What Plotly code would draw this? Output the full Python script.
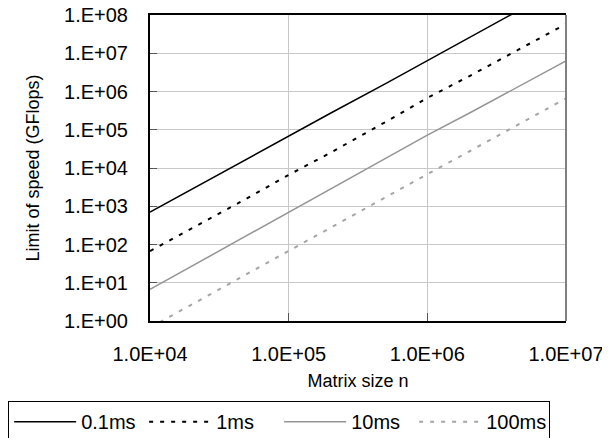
import plotly.graph_objects as go

n_values = [1e4, 2e4, 5e4, 1e5, 2e5, 5e5, 1e6, 2e6, 5e6, 1e7]
speed_01ms = [7.0e2, 2.8e3, 1.7e4, 6.9e4, 2.7e5, 1.6e6, 6.3e6, 2.6e7, 1.6e8, 6.3e8]
speed_1ms = [6.7e1, 2.6e2, 1.6e3, 6.6e3, 2.5e4, 1.6e5, 6.8e5, 2.5e6, 1.5e7, 5.8e7]
speed_10ms = [6.7, 2.7e1, 1.7e2, 6.9e2, 2.8e3, 1.7e4, 7.2e4, 2.7e5, 1.6e6, 6.3e6]
speed_100ms = [0.67, 2.7, 1.7e1, 6.9e1, 2.7e2, 1.7e3, 6.9e3, 2.7e4, 1.7e5, 6.6e5]

series_names = ["0.1ms", "1ms", "10ms", "100ms"]
x_tickvals = [1e4, 1e5, 1e6, 1e7]
x_ticktext = ["1.0E+04", "1.0E+05", "1.0E+06", "1.0E+07"]
y_tickvals = [1e0, 1e1, 1e2, 1e3, 1e4, 1e5, 1e6, 1e7, 1e8]
y_ticktext = ["1.E+00", "1.E+01", "1.E+02", "1.E+03", "1.E+04", "1.E+05", "1.E+06", "1.E+07", "1.E+08"]

FONT = "Liberation Sans, Arial, sans-serif"

fig = go.Figure()
styles = [
    dict(color="black", width=1.5, dash="solid"),
    dict(color="black", width=2, dash="4px,7px"),
    dict(color="#959595", width=1.5, dash="solid"),
    dict(color="#a5a5a5", width=2, dash="4px,7px"),
]
for name, ys, st in zip(series_names, [speed_01ms, speed_1ms, speed_10ms, speed_100ms], styles):
    fig.add_trace(go.Scatter(x=n_values, y=ys, mode="lines", name=name, line=st))

fig.update_layout(
    width=594, height=430,
    margin=dict(l=142, r=36, t=7, b=117, autoexpand=False),
    paper_bgcolor="white", plot_bgcolor="white",
    font=dict(family=FONT, size=20, color="black"),
    showlegend=True,
    legend=dict(
        orientation="h", x=-0.341, xanchor="left", y=-0.262, yanchor="top",
        bordercolor="black", borderwidth=1, bgcolor="white",
        font=dict(size=20), itemwidth=62, entrywidth=58, tracegroupgap=0,
    ),
    xaxis=dict(
        type="log", range=[4, 7], tickvals=x_tickvals, ticktext=x_ticktext,
        automargin=False, ticklabeloverflow="allow",
        showgrid=True, gridcolor="#c8c8c8", gridwidth=1,
        showline=True, linecolor="black", linewidth=2, mirror=True,
        ticks="inside", ticklen=8, tickcolor="#555555",
        ticklabelstandoff=14,
        title=dict(text="Matrix size n", font=dict(size=18), standoff=10),
        zeroline=False,
    ),
    yaxis=dict(
        type="log", range=[0, 8], tickvals=y_tickvals, ticktext=y_ticktext,
        automargin=False, ticklabeloverflow="allow",
        showgrid=True, gridcolor="#c8c8c8", gridwidth=1,
        showline=True, linecolor="black", linewidth=2,
        ticks="inside", ticklen=7, tickcolor="#555555",
        ticklabelstandoff=16,
        title=dict(text="Limit of speed (GFlops)", font=dict(size=18), standoff=20),
        zeroline=False,
    ),
)
fig.add_shape(type="line", xref="paper", yref="paper", x0=1, x1=1, y0=0, y1=1,
              line=dict(color="#808080", width=2))

fig.write_html("out.html")
